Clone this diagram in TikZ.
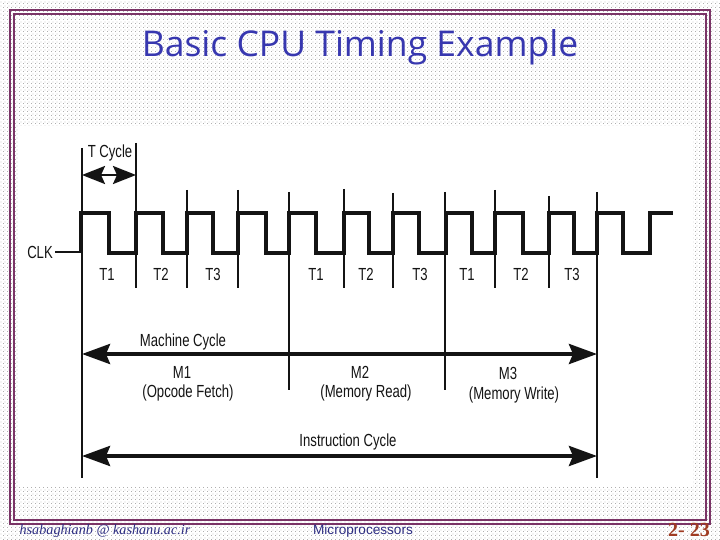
\documentclass[tikz,border=0pt]{standalone}
\usepackage{fontspec}
\setmainfont{Liberation Sans}
\newfontfamily\arialn[FakeStretch=0.75]{Liberation Sans}
\newfontfamily\titlefont{Open Sans}
\newfontfamily\footserif{Liberation Serif}
\usetikzlibrary{arrows.meta,patterns.meta}
\definecolor{framec}{RGB}{122,52,102}
\definecolor{titleblue}{RGB}{55,55,175}
\definecolor{footblue}{RGB}{45,45,130}
\definecolor{pagenum}{RGB}{160,60,35}
\definecolor{ink}{RGB}{20,20,20}
\definecolor{dotgray}{RGB}{175,175,175}
\tikzdeclarepattern{name=bgdots,type=uncolored,bounding box={(0pt,0pt) and (4pt,4pt)},tile size={(4pt,4pt)},code={\fill (0pt,0pt) rectangle (1pt,1pt); \fill (2pt,2pt) rectangle (3pt,3pt);}}
\begin{document}
\begin{tikzpicture}[x=1pt,y=-1pt,
  lbl/.style={font=\arialn\fontsize{17.5}{18}\selectfont, text=ink, inner sep=0pt},
  clkline/.style={line width=3.2pt, ink, line join=miter},
  tick/.style={line width=1.8pt, ink},
  bound/.style={line width=2.2pt, ink},
  bigarrow/.style={line width=4pt, ink, {Stealth[length=28pt,width=20pt,inset=4pt]}-{Stealth[length=28pt,width=20pt,inset=4pt]}},
  smallarrow/.style={line width=2.5pt, ink, {Stealth[length=23pt,width=18pt,inset=4pt]}-{Stealth[length=23pt,width=18pt,inset=4pt]}}
]
\useasboundingbox (0,0) rectangle (720,540);
\fill[white] (0,0) rectangle (720,540);
\fill[pattern=bgdots, pattern color=dotgray] (0,0) rectangle (720,540);
% frame
\draw[framec, line width=2.6pt] (10,10) rectangle (710,524);
\draw[framec, line width=2pt] (14,14) rectangle (706,520);
% picture area
\fill[white] (19,126) rectangle (693,487);

% title and footer
\node[font=\titlefont\fontsize{35.5}{38}\selectfont, text=titleblue, inner sep=0pt] (title) at (360,47) {Basic CPU Timing Example};
\node[font=\footserif\itshape\fontsize{14.2}{15}\selectfont, text=footblue, inner sep=0pt] (email) at (105,531) {hsabaghianb @ kashanu.ac.ir};
\node[font=\fontsize{13.6}{14}\selectfont, text=footblue, inner sep=0pt] (course) at (363,531) {Microprocessors};
\node[font=\footserif\bfseries\fontsize{20}{20}\selectfont, text=pagenum, inner sep=0pt] (page) at (689,530) {2- 23};

% vertical boundary lines
\draw[bound] (82,148) -- (82,478);
\draw[bound] (597,192) -- (597,478);
\draw[bound] (289,192) -- (289,390);
\draw[bound] (445,192) -- (445,390);
\draw[tick] (136,143) -- (136,288);
\foreach \x/\t in {187/190,238/190,344/189,393/193,495/190,549/196}
  \draw[tick] (\x,\t) -- (\x,288);

% clock
\node[lbl, anchor=east] (clk) at (53,252) {CLK};
\coordinate (clkstart) at (81,252);
\draw[line width=2pt, ink] (clk.east) ++(2,0) -- (clkstart);
\draw[clkline] (81,252) -- (81,213) -- (109,213) -- (109,253) -- (136,253)
  -- (136,213) -- (163,213) -- (163,253) -- (187,253)
  -- (187,213) -- (213,213) -- (213,253) -- (238,253)
  -- (238,213) -- (266,213) -- (266,253) -- (289,253)
  -- (289,213) -- (316,213) -- (316,253) -- (344,253)
  -- (344,213) -- (369,213) -- (369,253) -- (393,253)
  -- (393,213) -- (419,213) -- (419,253) -- (446,253)
  -- (446,213) -- (472,213) -- (472,253) -- (495,253)
  -- (495,213) -- (523,213) -- (523,253) -- (549,253)
  -- (549,213) -- (574,213) -- (574,253) -- (597,253)
  -- (597,213) -- (623,213) -- (623,253) -- (650,253)
  -- (650,213) -- (673,213);

% T cycle
\node[lbl] (tcyc) at (110,153) {T Cycle};
\coordinate (tcA) at (82,175);
\coordinate (tcB) at (136,175);
\draw[smallarrow] (tcA) -- (tcB);

% T labels
\foreach \x/\n [count=\i] in {107/T1,161/T2,213/T3,316/T1,366/T2,420/T3,467/T1,521/T2,572/T3}
  \node[lbl] (t\i) at (\x,274) {\n};

% machine cycle
\node[lbl] (mc) at (183,342) {Machine Cycle};
\coordinate (mcA) at (82,354);
\coordinate (mcB) at (597,354);
\draw[bigarrow] (mcA) -- (mcB);
\node[lbl] (m1) at (182,372) {M1};
\node[lbl] (m1b) at (188,393) {(Opcode Fetch)};
\node[lbl] (m2) at (360,372) {M2};
\node[lbl] (m2b) at (366,393) {(Memory Read)};
\node[lbl] (m3) at (508,373) {M3};
\node[lbl] (m3b) at (514,395) {(Memory Write)};

% instruction cycle
\node[lbl] (ic) at (348,442) {Instruction Cycle};
\coordinate (icA) at (82,456);
\coordinate (icB) at (597,456);
\draw[bigarrow] (icA) -- (icB);
\end{tikzpicture}
\end{document}
